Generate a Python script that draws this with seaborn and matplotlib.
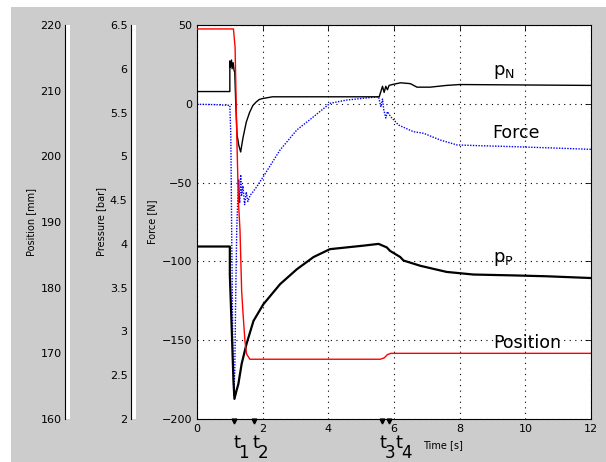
import numpy as np
import matplotlib
matplotlib.use('Agg')
import matplotlib.pyplot as plt
import seaborn as sns
from matplotlib.patches import Rectangle

# values
# position (red), mm
pos_t = [0, 1.11, 1.16, 1.21, 1.26, 1.31, 1.36, 1.40, 1.46, 1.51, 1.61, 5.58, 5.70, 5.80, 5.90, 12]
pos_mm = [219.4, 219.4, 216.6, 203.5, 193.3, 188.7, 179.5, 176.2, 171.9, 169.9, 169.1, 169.1, 169.3, 169.8, 170.0, 170.0]

# p_N pressure (black, thin), bar
pn_t = [0, 1.0, 1.0, 1.02, 1.05, 1.07, 1.1, 1.13, 1.15, 1.18, 1.22, 1.25, 1.27, 1.3, 1.33, 1.36, 1.4, 1.45,
        1.5, 1.6, 1.7, 1.8, 1.9, 2.0, 2.3, 5.55, 5.6, 5.65, 5.7, 5.75, 5.8, 5.85, 5.95, 6.2, 6.5, 6.7,
        7.1, 7.6, 8.0, 12]
pn_bar = [5.74, 5.74, 6.09, 6.02, 6.10, 6.00, 6.07, 5.98, 5.96, 5.61, 5.24, 5.18, 5.13, 5.09, 5.05, 5.12,
          5.21, 5.30, 5.39, 5.50, 5.58, 5.62, 5.65, 5.66, 5.68, 5.68, 5.74, 5.80, 5.73, 5.80, 5.76, 5.81,
          5.82, 5.84, 5.83, 5.79, 5.79, 5.81, 5.82, 5.81]

# p_P pressure (black, thick), bar
pp_t = [0, 1.0, 1.0, 1.06, 1.11, 1.14, 1.2, 1.26, 1.36, 1.51, 1.72, 2.02, 2.53, 3.04, 3.55, 4.05, 4.56,
        5.07, 5.53, 5.78, 5.88, 6.19, 6.29, 6.8, 7.6, 8.42, 9.64, 10.66, 12]
pp_bar = [3.97, 3.97, 3.65, 3.00, 2.44, 2.23, 2.32, 2.40, 2.63, 2.86, 3.12, 3.31, 3.54, 3.71, 3.85, 3.94,
          3.96, 3.98, 4.00, 3.96, 3.92, 3.85, 3.81, 3.75, 3.68, 3.65, 3.64, 3.63, 3.61]

# force (blue, dotted), N
f_t = [0, 0.5, 1.0, 1.03, 1.06, 1.09, 1.12, 1.15, 1.18, 1.21, 1.24, 1.27, 1.3, 1.33, 1.36, 1.4, 1.45,
       1.5, 1.55, 1.62, 1.7, 1.82, 2.02, 2.53, 3.04, 3.55, 4.05, 4.56, 5.07, 5.53, 5.6, 5.65, 5.69,
       5.75, 5.8, 5.9, 6.14, 6.59, 6.9, 7.41, 7.92, 8.63, 9.64, 10.66, 12]
f_n = [-0.3, -0.5, -1.0, -20, -90, -150, -185, -170, -120, -80, -62, -48, -63, -45, -58, -52, -64,
       -56, -62, -58, -56, -52.6, -46.2, -29.3, -16.6, -8.2, 0.3, 2.4, 3.5, 4.5, -2, 3, -4,
       -9, -5, -8.2, -13.5, -17.7, -18.7, -23, -26.1, -26.6, -27.2, -27.9, -28.9]

# event times t1..t4 and where their labels sit
event_t = [1.14, 1.75, 5.63, 5.86]
event_names = ['1', '2', '3', '4']
label_t = [1.21, 1.80, 5.66, 6.16]
sub_t = [1.41, 2.02, 5.88, 6.39]

sns.set_style('white', rc={'axes.edgecolor': 'black', 'xtick.color': 'black', 'ytick.color': 'black',
                           'text.color': 'black', 'axes.labelcolor': 'black',
                           'xtick.direction': 'in', 'ytick.direction': 'in'})
plt.rcParams['font.family'] = ['DejaVu Sans']

W, H = 606, 462
fig = plt.figure(figsize=(W / 100, H / 100), dpi=100)
fig.patch.set_facecolor('white')
fig.patches.append(Rectangle((11 / W, 0), 1 - 11 / W, (H - 7) / H, transform=fig.transFigure,
                             facecolor='#cccccc', edgecolor='none', zorder=-10))

bottom = (H - 419) / H
height = (419 - 25) / H
rect = [197 / W, bottom, (591 - 197) / W, height]

# main force axes
ax = fig.add_axes(rect)
ax.set_facecolor('white')
sns.lineplot(x=f_t, y=f_n, ax=ax, color='blue', lw=1.0, linestyle=(0, (1, 1)),
             estimator=None, sort=False)
ax.set_xlim(0, 12)
ax.set_ylim(-200, 50)
ax.set_xticks(np.arange(0, 13, 2))
ax.set_yticks(np.arange(-200, 51, 50))
ax.tick_params(direction='in', top=True, right=True, length=4, width=0.6, labelsize=8, pad=3.5)
ax.grid(True, linestyle=(0, (1, 4)), color='black', linewidth=0.8)
for s in ax.spines.values():
    s.set_color('black')
    s.set_linewidth(0.8)
ax.set_ylabel('Force [N]', fontsize=7, labelpad=3)
ax.set_xlabel('Time [s]', fontsize=7)
ax.xaxis.set_label_coords((443 - 197) / 394, (419 - 440) / 394)

# event markers and labels
ax.plot(event_t, [-201.5] * 4, linestyle='none', marker='v', color='black', markersize=3.5, clip_on=False)
for lt, st, n in zip(label_t, sub_t, event_names):
    ax.text(lt, -0.074, 't', transform=ax.get_xaxis_transform(), fontsize=13,
            ha='center', va='baseline')
    ax.text(st, -0.099, n, transform=ax.get_xaxis_transform(), fontsize=12,
            ha='center', va='baseline')

# curve names
ax.text(9.02, 18.3, r'$\mathregular{p_N}$', fontsize=13, va='baseline')
ax.text(8.99, -18.5, 'Force', fontsize=12.5, va='center')
ax.text(9.02, -100.4, r'$\mathregular{p_P}$', fontsize=13, va='baseline')
ax.text(9.02, -151.8, 'Position', fontsize=12.5, va='center')

# pressure curves on overlay axes
axp = fig.add_axes(rect)
axp.set_axis_off()
sns.lineplot(x=pp_t, y=pp_bar, ax=axp, color='black', lw=1.6, estimator=None, sort=False)
sns.lineplot(x=pn_t, y=pn_bar, ax=axp, color='black', lw=1.0, estimator=None, sort=False)
axp.set_xlim(0, 12)
axp.set_ylim(2, 6.5)

# position curve on overlay axes
axs = fig.add_axes(rect)
axs.set_axis_off()
sns.lineplot(x=pos_t, y=pos_mm, ax=axs, color='red', lw=1.0, estimator=None, sort=False)
axs.set_xlim(0, 12)
axs.set_ylim(160, 220)


# thin scale bars on the left
def side_bar(left, lo, hi, step, label, pad):
    b = fig.add_axes([left / W, bottom, 5 / W, height])
    b.set_facecolor('white')
    b.set_ylim(lo, hi)
    b.set_yticks(np.arange(lo, hi + step / 2, step))
    b.set_xticks([])
    for k in ['top', 'right', 'bottom']:
        b.spines[k].set_visible(False)
    b.spines['left'].set_color('black')
    b.spines['left'].set_linewidth(0.8)
    b.tick_params(axis='y', direction='in', length=4, width=0.6, labelsize=8, pad=2.5)
    b.set_ylabel(label, fontsize=7, labelpad=pad)
    return b


side_bar(65, 160, 220, 10, 'Position [mm]', 3)
pb = side_bar(131, 2, 6.5, 0.5, 'Pressure [bar]', 3)
pb.set_yticklabels(['2', '2.5', '3', '3.5', '4', '4.5', '5', '5.5', '6', '6.5'])

fig.savefig('out.png', dpi=100)
